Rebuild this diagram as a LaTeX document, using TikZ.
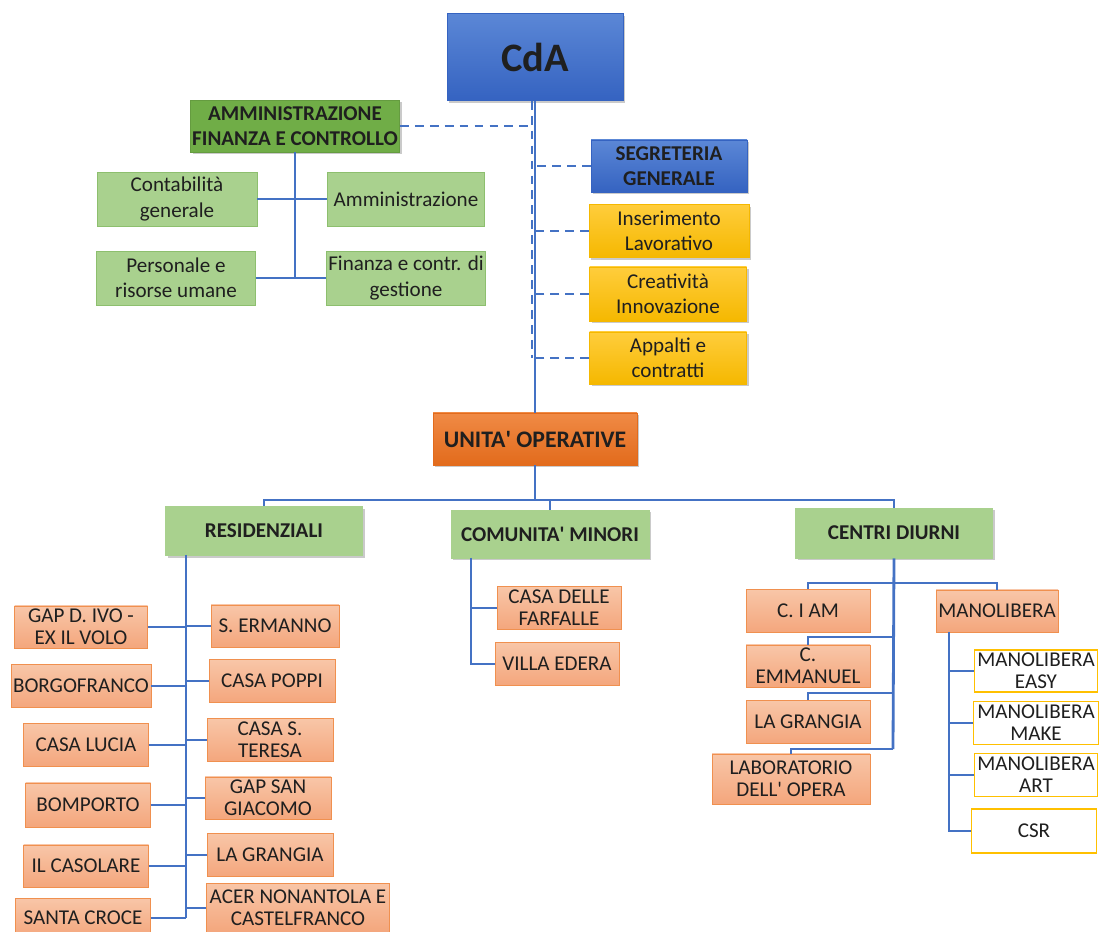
\documentclass[tikz,border=0pt]{standalone}
\usepackage{fontspec}
\setmainfont{Carlito}
\usetikzlibrary{shadows}

\definecolor{linkblue}{HTML}{4472C4}
\definecolor{cdatop}{HTML}{5B87D6}
\definecolor{cdabot}{HTML}{3563C1}
\definecolor{afcgreen}{HTML}{70AD47}
\definecolor{palegreen}{HTML}{A9D18E}
\definecolor{paleline}{HTML}{8DBF6E}
\definecolor{goldtop}{HTML}{FFCD3C}
\definecolor{goldbot}{HTML}{F5B800}
\definecolor{goldline}{HTML}{FFC000}
\definecolor{uotop}{HTML}{F08A45}
\definecolor{uobot}{HTML}{E26B1C}
\definecolor{salmontop}{HTML}{F8C6A8}
\definecolor{salmonbot}{HTML}{F4A67C}
\definecolor{salmonline}{HTML}{F0904F}

\tikzset{
  box/.style={rectangle, align=center, inner sep=1pt, text=black!88,
    font=\fontsize{12}{14.4}\selectfont},
  boxsize/.style 2 args={minimum width=#1*0.02cm, minimum height=#2*0.02cm},
  softshadow/.style={drop shadow={opacity=0.35, shadow xshift=1.2pt,
    shadow yshift=-1.2pt, fill=black!60}},
  cdabox/.style={box, draw=cdabot, top color=cdatop, bottom color=cdabot,
    softshadow, font=\bfseries\fontsize{23}{26}\selectfont},
  segbox/.style={box, draw=cdabot, top color=cdatop, bottom color=cdabot,
    softshadow, font=\bfseries\fontsize{12}{14.4}\selectfont},
  afcbox/.style={box, draw=afcgreen!90!black, fill=afcgreen, softshadow,
    font=\bfseries\fontsize{12}{14.4}\selectfont},
  subgreen/.style={box, draw=paleline, fill=palegreen},
  goldbox/.style={box, draw=goldbot, top color=goldtop, bottom color=goldbot,
    softshadow},
  uobox/.style={box, draw=uobot, top color=uotop, bottom color=uobot,
    softshadow, font=\bfseries\fontsize{13.5}{16}\selectfont},
  groupbox/.style={box, draw=palegreen, fill=palegreen, softshadow,
    font=\bfseries\fontsize{12}{14.4}\selectfont},
  unitbox/.style={box, draw=salmonline, top color=salmontop,
    bottom color=salmonbot, inner sep=0pt, font=\fontsize{12}{12.5}\selectfont},
  workbox/.style={box, draw=goldline, line width=0.9pt, fill=white,
    inner sep=0pt, font=\fontsize{12}{12.5}\selectfont},
  trunk/.style={draw=linkblue, line width=1.6pt},
  branch/.style={draw=linkblue, line width=1pt},
  dashlink/.style={draw=linkblue, line width=1.1pt, dash pattern=on 5pt off 3.5pt},
}

\begin{document}
\begin{tikzpicture}[x=0.02cm, y=-0.02cm]
  \useasboundingbox (0,0) rectangle (1100,932);

  % vertice
  \node[cdabox, boxsize={176}{87}] (cda) at (535,57) {CdA};
  \node[afcbox, boxsize={209}{52}] (afc) at (295,126) {AMMINISTRAZIONE\\FINANZA E CONTROLLO};

  \begin{scope}[every node/.style={subgreen}]
    \node[boxsize={160}{54}] (cont) at (177,199) {Contabilità\\generale};
    \node[boxsize={157}{54}] (amm)  at (406,199) {Amministrazione};
    \node[boxsize={159}{54}] (pers) at (176,278) {Personale e\\risorse umane};
    \node[boxsize={158}{54}] (fin)  at (406,278) {Finanza e contr. di\\gestione};
  \end{scope}

  \node[segbox, boxsize={156}{52}] (seg) at (669,166) {SEGRETERIA\\GENERALE};
  \begin{scope}[every node/.style={goldbox}]
    \node[boxsize={160}{53}] (ins) at (669,231) {Inserimento\\Lavorativo};
    \node[boxsize={157}{54}] (cre) at (668,294) {Creatività\\Innovazione};
    \node[boxsize={157}{52}] (app) at (668,358) {Appalti e\\contratti};
  \end{scope}

  \node[uobox, boxsize={204}{52}] (uo) at (535,439) {UNITA\textquotesingle\ OPERATIVE};

  \begin{scope}[every node/.style={groupbox}]
    \node[boxsize={197}{49}] (res) at (264,531) {RESIDENZIALI};
    \node[boxsize={198}{48}] (com) at (550,534) {COMUNITA\textquotesingle\ MINORI};
    \node[boxsize={197}{50}] (cen) at (894,533) {CENTRI DIURNI};
  \end{scope}

  % residenziali
  \begin{scope}[every node/.style={unitbox}]
    \node[boxsize={133}{42}] (gapivo) at (81,627)  {GAP D. IVO -\\EX IL VOLO};
    \node[boxsize={140}{43}] (borgo)  at (81,686)  {BORGOFRANCO};
    \node[boxsize={125}{43}] (lucia)  at (86,745)  {CASA LUCIA};
    \node[boxsize={125}{44}] (bomp)   at (88,805)  {BOMPORTO};
    \node[boxsize={125}{42}] (casol)  at (86,866)  {IL CASOLARE};
    \node[boxsize={135}{40}] (scroce) at (83,918)  {SANTA CROCE};
    \node[boxsize={128}{42}] (serm)   at (275,626) {S. ERMANNO};
    \node[boxsize={126}{43}] (poppi)  at (272,681) {CASA POPPI};
    \node[boxsize={126}{43}] (teresa) at (270,740) {CASA S.\\TERESA};
    \node[boxsize={126}{42}] (giac)   at (268,798) {GAP SAN\\GIACOMO};
    \node[boxsize={126}{43}] (grres)  at (270,855) {LA GRANGIA};
    \node[boxsize={183}{50}] (acer)   at (298,908) {ACER NONANTOLA E\\CASTELFRANCO};

    % comunita
    \node[boxsize={124}{43}] (farf)  at (559,608) {CASA DELLE\\FARFALLE};
    \node[boxsize={124}{43}] (villa) at (557,664) {VILLA EDERA};

    % centri diurni
    \node[boxsize={124}{43}] (ciam)  at (808,611) {C. I AM};
    \node[boxsize={124}{42}] (emm)   at (808,666) {C.\\EMMANUEL};
    \node[boxsize={124}{43}] (grcen) at (808,722) {LA GRANGIA};
    \node[boxsize={158}{50}] (lab)   at (791,779) {LABORATORIO\\DELL\textquotesingle\ OPERA};
    \node[boxsize={122}{42}] (mano)  at (997,611) {MANOLIBERA};
  \end{scope}

  \begin{scope}[every node/.style={workbox}]
    \node[boxsize={123}{42}] (easy) at (1036,671) {MANOLIBERA\\EASY};
    \node[boxsize={125}{43}] (make) at (1036,723) {MANOLIBERA\\MAKE};
    \node[boxsize={123}{43}] (art)  at (1036,775) {MANOLIBERA\\ART};
    \node[boxsize={125}{44}] (csr)  at (1034,831) {CSR};
  \end{scope}

  % punti di snodo
  \coordinate (uohub)     at (535,500);
  \coordinate (restrunk)  at (186,555);
  \coordinate (comtrunk)  at (471,558);
  \coordinate (cenbar)    at (893,583);
  \coordinate (cenbar2)   at (893,637);
  \coordinate (cenbar3)   at (893,693);
  \coordinate (cenbar4)   at (893,749);
  \coordinate (manotrunk) at (949,632);

  % linee di staff
  \draw[dashlink] ([xshift=-1.5pt]cda.south) -- ([xshift=-1.5pt]cda.south |- app.west);
  \draw[dashlink] (afc.east) -- (afc.east -| cda.south);
  \draw[dashlink] (seg.west) -- (seg.west -| cda.south);
  \draw[dashlink] (ins.west) -- (ins.west -| cda.south);
  \draw[dashlink] (cre.west) -- (cre.west -| cda.south);
  \draw[dashlink] (app.west) -- (app.west -| cda.south);
  \draw[trunk] (cda.south) -- (uo.north);

  % amministrazione
  \draw[branch] (afc.south) -- (afc.south |- pers.east);
  \draw[branch] (cont.east) -- (amm.west);
  \draw[branch] (pers.east) -- (fin.west);

  % unita operative
  \draw[trunk] (uo.south) -- (uohub);
  \draw[branch] (res.north) -- (res.north |- uohub) -- (cen.north |- uohub) -- (cen.north);
  \draw[branch] (uohub) -- (uohub -| com.north) -- (com.north);

  % residenziali
  \draw[trunk] (restrunk) -- (restrunk |- scroce.east);
  \draw[branch] (gapivo.east) -- (gapivo.east -| restrunk);
  \draw[branch] (borgo.east) -- (borgo.east -| restrunk);
  \draw[branch] (lucia.east) -- (lucia.east -| restrunk);
  \draw[branch] (bomp.east) -- (bomp.east -| restrunk);
  \draw[branch] (casol.east) -- (casol.east -| restrunk);
  \draw[branch] (scroce.east) -- (scroce.east -| restrunk);
  \draw[branch] (serm.west) -- (serm.west -| restrunk);
  \draw[branch] (poppi.west) -- (poppi.west -| restrunk);
  \draw[branch] (teresa.west) -- (teresa.west -| restrunk);
  \draw[branch] (giac.west) -- (giac.west -| restrunk);
  \draw[branch] (grres.west) -- (grres.west -| restrunk);
  \draw[branch] (acer.west) -- (acer.west -| restrunk);

  % comunita minori
  \draw[branch] (comtrunk) |- (villa.west);
  \draw[branch] (comtrunk |- farf.west) -- (farf.west);

  % centri diurni
  \draw[trunk] (cen.south) -- (cenbar4);
  \draw[branch] (ciam.north) -- (ciam.north |- cenbar) -- (mano.north |- cenbar) -- (mano.north);
  \draw[branch] (emm.north) -- (emm.north |- cenbar2) -- (cenbar2);
  \draw[branch] (grcen.north) -- (grcen.north |- cenbar3) -- (cenbar3);
  \draw[branch] (lab.north) -- (lab.north |- cenbar4) -- (cenbar4);

  % manolibera
  \draw[branch] (manotrunk) |- (csr.west);
  \draw[branch] (manotrunk |- easy.west) -- (easy.west);
  \draw[branch] (manotrunk |- make.west) -- (make.west);
  \draw[branch] (manotrunk |- art.west) -- (art.west);
\end{tikzpicture}
\end{document}
